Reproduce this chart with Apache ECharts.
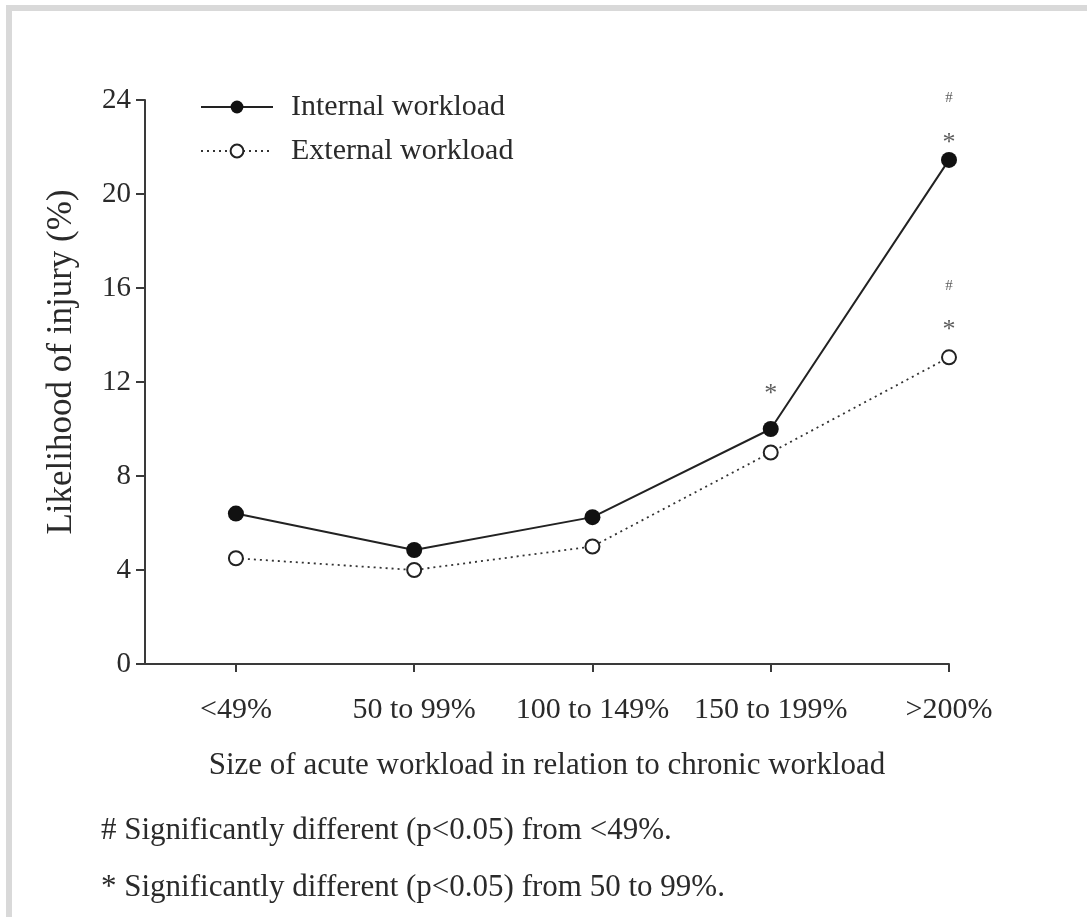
<!DOCTYPE html>
<html>
<head>
<meta charset="utf-8">
<script src="https://cdn.jsdelivr.net/npm/echarts@6/dist/echarts.min.js"></script>
<style>
html,body{margin:0;padding:0;background:#fff;}
#c{width:1087px;height:917px;}
</style>
</head>
<body>
<div id="c"></div>
<script>
var categories = ['<49%', '50 to 99%', '100 to 149%', '150 to 199%', '>200%'];
var internalWorkload = [6.4, 4.85, 6.25, 10.0, 21.45];
var externalWorkload = [4.5, 4.0, 5.0, 9.0, 13.05];
var yTicks = [0, 4, 8, 12, 16, 20, 24];
var annotationCat = [5, 5, 5, 5, 4];
var annotationY = [24.1, 22.15, 16.1, 14.2, 11.5];
var annotationText = ['#', '*', '#', '*', '*'];
var yAxisTitle = 'Likelihood of injury (%)';
var xAxisTitle = 'Size of acute workload in relation to chronic workload';
var footnotes = ['# Significantly different (p<0.05) from <49%.', '* Significantly different (p<0.05) from 50 to 99%.'];

var FONT = 'Liberation Serif';
var TXT = '#2a2a2a';

function toPairs(arr) { return arr.map(function (v, i) { return [i + 1, v]; }); }

var chart = echarts.init(document.getElementById('c'), null, { renderer: 'canvas' });
var option = {
  backgroundColor: '#fff',
  animation: false,
  textStyle: { fontFamily: FONT, color: TXT },
  grid: { left: 145, right: 138, top: 100, bottom: 253, containLabel: false },
  legend: {
    orient: 'vertical',
    left: 195, top: 87,
    itemWidth: 72, itemHeight: 16, itemGap: 14,
    textStyle: { fontFamily: FONT, fontSize: 30, lineHeight: 26, color: TXT, padding: [0, 0, 0, 13] },
    data: ['Internal workload', 'External workload']
  },
  xAxis: {
    type: 'value', min: 0.49, max: 5,
    name: xAxisTitle,
    nameLocation: 'middle', nameGap: 86,
    nameTextStyle: { fontFamily: FONT, fontSize: 31, color: TXT },
    axisLine: { show: true, lineStyle: { color: '#3a3a3a', width: 2 } },
    axisTick: { show: true, length: 8, lineStyle: { color: '#3a3a3a', width: 2 }, customValues: [1, 2, 3, 4, 5] },
    axisLabel: { margin: 31, fontFamily: FONT, fontSize: 30, color: TXT, customValues: [1, 2, 3, 4, 5],
      formatter: function (v) { return categories[Math.round(v) - 1] || ''; } },
    splitLine: { show: false }
  },
  yAxis: {
    type: 'value', min: 0, max: 24, interval: 4,
    axisLine: { show: true, lineStyle: { color: '#3a3a3a', width: 2 } },
    axisTick: { show: true, length: 9, lineStyle: { color: '#3a3a3a', width: 2 } },
    axisLabel: { margin: 14, fontFamily: FONT, fontSize: 29, color: TXT,
      formatter: function (v) { return yTicks.indexOf(v) >= 0 ? String(v) : ''; } },
    splitLine: { show: false }
  },
  series: [
    {
      name: 'Internal workload', type: 'line',
      data: toPairs(internalWorkload),
      symbol: 'circle', symbolSize: 16,
      lineStyle: { color: '#222', width: 2 },
      itemStyle: { color: '#111', borderColor: '#111', borderWidth: 0 },
      z: 3
    },
    {
      name: 'External workload', type: 'line',
      data: toPairs(externalWorkload),
      symbol: 'circle', symbolSize: 14,
      lineStyle: { color: '#333', width: 1.8, type: [2, 4] },
      itemStyle: { color: '#fff', borderColor: '#222', borderWidth: 2 },
      z: 2
    },
    {
      name: 'annotations', type: 'scatter',
      clip: false,
      data: annotationCat.map(function (c, i) { return { value: [c, annotationY[i]], txt: annotationText[i] }; }),
      symbolSize: 0, silent: true,
      label: {
        show: true, position: 'inside',
        formatter: function (p) { return p.data.txt; },
        fontFamily: FONT, color: '#333'
      },
      z: 4
    }
  ],
  graphic: [
    { type: 'rect', shape: { x: 6, y: 5, width: 1081, height: 6 }, style: { fill: '#d9d9d9' }, silent: true },
    { type: 'rect', shape: { x: 6, y: 5, width: 6, height: 912 }, style: { fill: '#d9d9d9' }, silent: true },
    { type: 'text', x: 62, y: 362, rotation: Math.PI / 2,
      style: { text: yAxisTitle, font: '35px "Liberation Serif"', fill: TXT, align: 'center', verticalAlign: 'middle' } },
    { type: 'text', left: 101, top: 815, style: { text: footnotes[0], font: '31px "Liberation Serif"', fill: TXT } },
    { type: 'text', left: 101, top: 872, style: { text: footnotes[1], font: '31px "Liberation Serif"', fill: TXT } }
  ]
};
option.series[2].data.forEach(function (d) {
  d.label = { fontSize: d.txt === '#' ? 15 : 26 };
});
chart.setOption(option);
</script>
</body>
</html>
